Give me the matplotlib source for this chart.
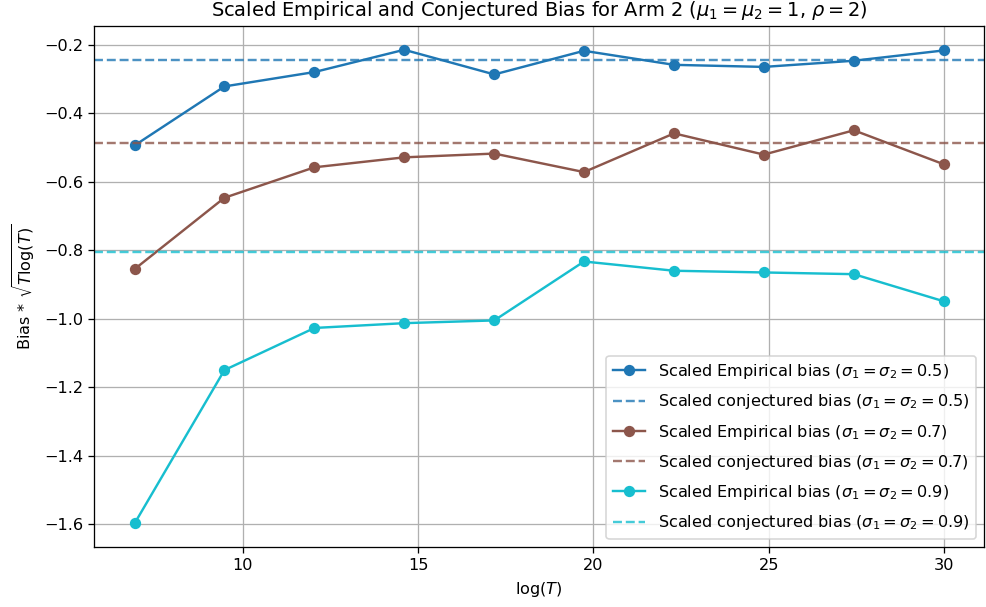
import matplotlib
matplotlib.use('Agg')
import matplotlib.pyplot as plt

# log(T) values
log_T = [6.91, 9.47, 12.04, 14.60, 17.17, 19.73, 22.30, 24.86, 27.43, 29.99]

sigmas = ['0.5', '0.7', '0.9']
colors = ['tab:blue', 'tab:brown', 'tab:cyan']

# Scaled empirical bias, one list per sigma
emp_05 = [-0.494, -0.322, -0.280, -0.215, -0.287, -0.218, -0.259, -0.265, -0.247, -0.217]
emp_07 = [-0.855, -0.647, -0.558, -0.529, -0.518, -0.572, -0.459, -0.521, -0.450, -0.549]
emp_09 = [-1.597, -1.150, -1.027, -1.013, -1.005, -0.833, -0.860, -0.865, -0.870, -0.949]

# Scaled conjectured bias (constant)
conj = [-0.244, -0.487, -0.806]

empirical = [emp_05, emp_07, emp_09]

DPI = 116
fig = plt.figure(figsize=(986 / DPI, 607 / DPI), dpi=DPI)
ax = fig.add_subplot(111)
fig.subplots_adjust(left=0.0956, right=0.998, top=0.957, bottom=0.099)

for s, c, emp, cj in zip(sigmas, colors, empirical, conj):
    ax.plot(log_T, emp, marker='o', color=c,
            label=r'Scaled Empirical bias ($\sigma_1 = \sigma_2 = %s$)' % s)
    ax.axhline(cj, linestyle='--', color=c, alpha=0.8,
               label=r'Scaled conjectured bias ($\sigma_1 = \sigma_2 = %s$)' % s)

ax.set_xlabel(r'$\log(T)$')
ax.set_ylabel(r'Bias * $\sqrt{T\log(T)}$')
ax.set_title(r'Scaled Empirical and Conjectured Bias for Arm 2 ($\mu_1 = \mu_2 = 1$, $\rho = 2$)')
ax.legend(loc='lower right', labelspacing=0.7)
ax.grid(True)

plt.savefig('out.png', dpi=DPI)
